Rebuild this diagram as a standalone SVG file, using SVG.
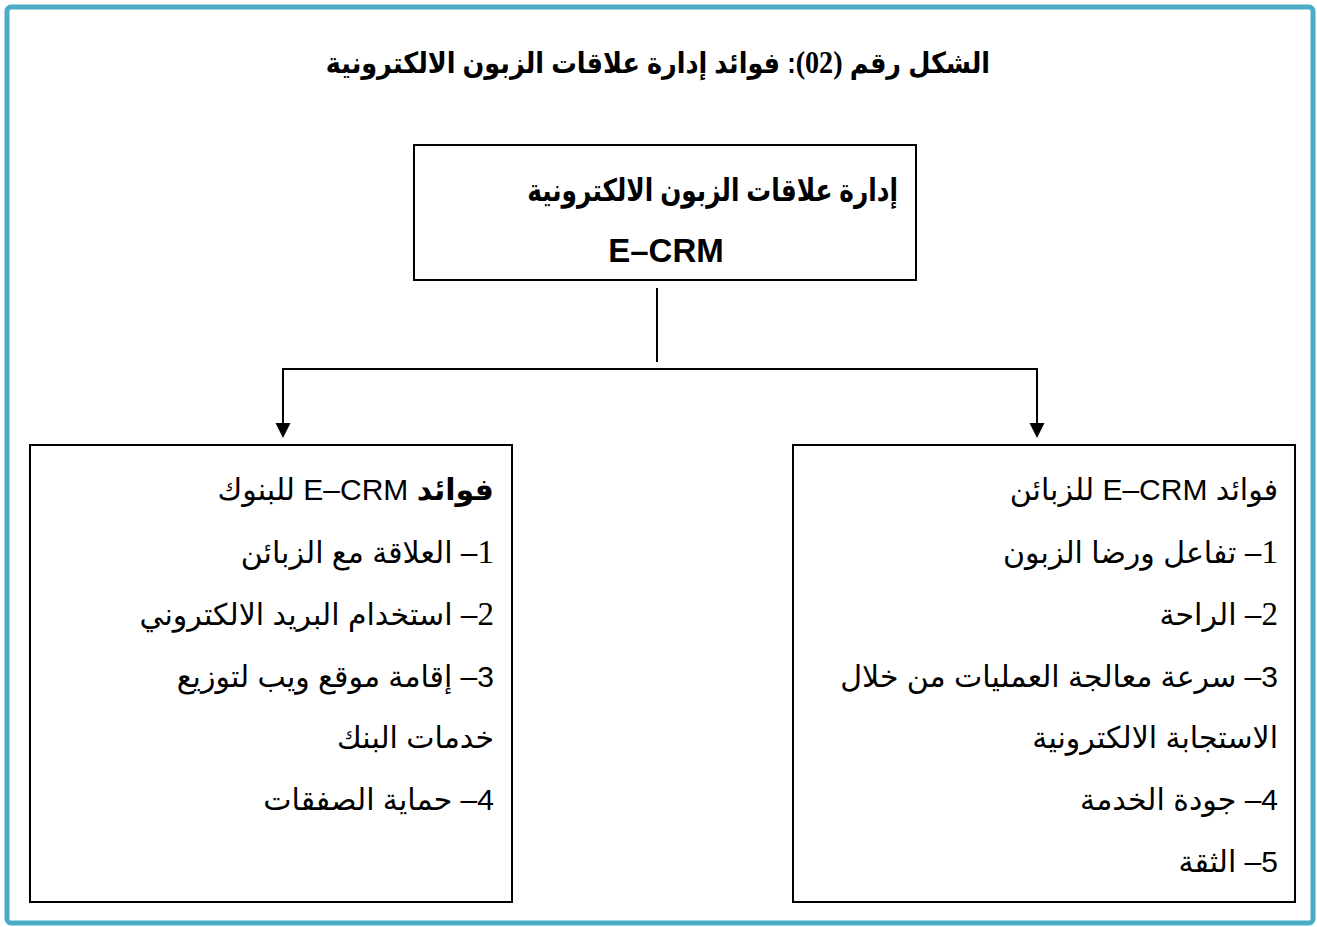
<svg xmlns="http://www.w3.org/2000/svg" width="1317" height="927" viewBox="0 0 1317 927">
  <defs>
    <style>
      .frame { fill: #fff; stroke: #4BACC6; stroke-width: 5; }
      .box { fill: #fff; stroke: #000; stroke-width: 2; }
      .conn { fill: none; stroke: #000; stroke-width: 2; }
      .head-arrow { fill: #000; }
      .ar { font-family: "Liberation Sans", "DejaVu Sans", sans-serif; fill: #000; direction: rtl; text-anchor: start; }
      .title { font-size: 29px; font-weight: bold; }
      .head { font-size: 31px; font-weight: bold; }
      .body { font-size: 30px; }
      .ser { font-family: "Liberation Serif", serif; font-size: 33px; }
      .b { font-weight: bold; }
    </style>
  </defs>
  <rect class="frame" x="7" y="7" width="1306" height="916" rx="4"/>
  <g id="title">
    <text class="ar title" transform="translate(990,73) scale(0.88,1)" x="0" y="0">الشكل رقم <tspan style="font-family:'Liberation Serif',serif;font-weight:bold;font-size:32px">(02)</tspan>: فوائد إدارة علاقات الزبون الالكترونية</text>
  </g>
  <g id="ecrm">
    <rect class="box" x="414" y="145" width="502" height="135"/>
    <text class="ar head" transform="translate(898,201) scale(0.8,1)" x="0" y="0">إدارة علاقات الزبون الالكترونية</text>
    <text x="666" y="262" font-family="Liberation Sans, sans-serif" font-size="33" font-weight="bold" text-anchor="middle">E–CRM</text>
  </g>
  <g id="connectors">
    <line class="conn" x1="657" y1="288" x2="657" y2="362"/>
    <polyline class="conn" points="283,430 283,369 1037,369 1037,430"/>
    <path class="head-arrow" d="M275.5,423 L290.5,423 L283,438 Z"/>
    <path class="head-arrow" d="M1029.5,423 L1044.5,423 L1037,438 Z"/>
  </g>
  <g id="banks">
    <rect class="box" x="30" y="445" width="482" height="457"/>
    <text class="ar body" x="494" y="500"><tspan class="b">فوائد</tspan> E–CRM للبنوك</text>
    <text class="ar body" x="494" y="563"><tspan class="ser">1</tspan>– العلاقة مع الزبائن</text>
    <text class="ar body" x="494" y="625"><tspan class="ser">2</tspan>– استخدام البريد الالكتروني</text>
    <text class="ar body" x="494" y="687">3– إقامة موقع ويب لتوزيع</text>
    <text class="ar body" x="494" y="748">خدمات البنك</text>
    <text class="ar body" x="494" y="810">4– حماية الصفقات</text>
  </g>
  <g id="customers">
    <rect class="box" x="793" y="445" width="502" height="457"/>
    <text class="ar body" x="1278" y="500">فوائد E–CRM للزبائن</text>
    <text class="ar body" x="1278" y="563"><tspan class="ser">1</tspan>– تفاعل ورضا الزبون</text>
    <text class="ar body" x="1278" y="625"><tspan class="ser">2</tspan>– الراحة</text>
    <text class="ar body" x="1278" y="687">3– سرعة معالجة العمليات من خلال</text>
    <text class="ar body" x="1278" y="748">الاستجابة الالكترونية</text>
    <text class="ar body" x="1278" y="810">4– جودة الخدمة</text>
    <text class="ar body" x="1278" y="872">5– الثقة</text>
  </g>
</svg>
